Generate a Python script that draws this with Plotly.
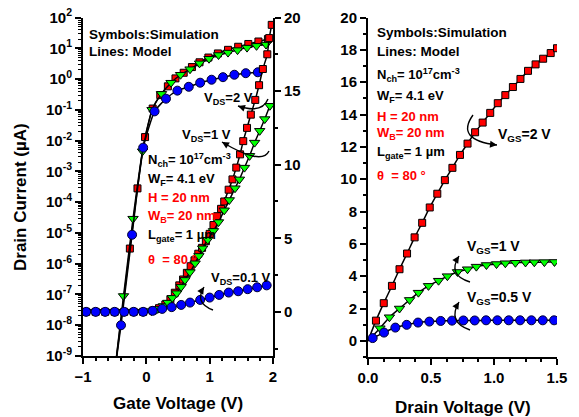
import math
import plotly.graph_objects as go

W, H = 579, 417
FONT = "Liberation Sans, Arial, sans-serif"

# ---------------- Left panel: transfer characteristics ----------------
# log scale (left axis), drain current in uA vs gate voltage
vg_log_vds2 = [-0.50, -0.26, -0.14, -0.02, 0.10, 0.22, 0.34, 0.46, 0.59, 0.72, 0.84, 0.98, 1.13, 1.29, 1.45, 1.61, 1.77, 1.92]
id_log_vds2 = [3e-10, 3.1e-6, 2.8e-4, 1.3e-2, 0.11, 0.30, 0.58, 1.05, 1.6, 2.45, 3.5, 5.0, 6.8, 8.9, 11.2, 13.8, 16.6, 20.0]

vg_log_vds1 = [-0.50, -0.36, -0.21, -0.06, 0.09, 0.24, 0.39, 0.54, 0.69, 0.84, 0.99, 1.14, 1.29, 1.44, 1.59, 1.74, 1.89]
id_log_vds1 = [3e-10, 8.9e-8, 2.9e-5, 4.5e-3, 0.10, 0.33, 0.76, 1.38, 2.09, 3.24, 4.57, 6.03, 7.24, 8.71, 10.5, 12.0, 13.2]

vg_log_vds01 = [-0.50, -0.40, -0.225, -0.05, 0.13, 0.31, 0.49, 0.67, 0.85, 1.03, 1.21, 1.39, 1.57, 1.76]
id_log_vds01 = [3e-10, 1e-8, 8.7e-6, 5.9e-3, 0.089, 0.23, 0.42, 0.56, 0.76, 0.95, 1.15, 1.38, 1.55, 1.66]

# linear scale (right axis)
vg_lin_vds2 = [-0.95, -0.80, -0.65, -0.50, -0.35, -0.20, -0.05, 0.10, 0.20, 0.30, 0.38, 0.45, 0.52, 0.58, 0.64, 0.70,
               0.76, 0.82, 0.88, 0.94, 1.00, 1.06, 1.12, 1.18, 1.23, 1.30, 1.36, 1.42, 1.48, 1.53, 1.59, 1.65, 1.72,
               1.78, 1.84, 1.91, 1.94, 1.98]
id_lin_vds2 = [0, 0, 0, 0, 0, 0, 0, 0.08, 0.25, 0.5, 0.85, 1.3, 1.8, 2.2, 2.65, 3.1,
               3.5, 3.95, 4.35, 4.8, 5.3, 5.9, 6.5, 7.0, 7.5, 8.3, 9.0, 9.8, 10.7, 11.6, 12.5, 13.4, 14.4,
               15.4, 16.5, 17.5, 18.6, 19.5]

vg_lin_vds1 = [-0.95, -0.80, -0.65, -0.50, -0.35, -0.20, -0.05, 0.08, 0.18, 0.27, 0.34, 0.41, 0.48, 0.55, 0.61, 0.69,
               0.77, 0.83, 0.89, 0.97, 1.06, 1.14, 1.23, 1.31, 1.40, 1.47, 1.55, 1.63, 1.71, 1.79, 1.87, 1.95]
id_lin_vds1 = [0, 0, 0, 0, 0, 0, 0, 0.05, 0.2, 0.4, 0.63, 0.95, 1.27, 1.7, 2.17, 2.7,
               3.3, 3.8, 4.32, 4.9, 5.5, 6.1, 6.9, 7.6, 8.4, 9.0, 9.8, 10.6, 11.5, 12.3, 13.1, 14.0]

vg_lin_vds01 = [-0.95, -0.80, -0.65, -0.50, -0.35, -0.20, -0.05, 0.10, 0.25, 0.40, 0.55, 0.69, 0.85, 1.00, 1.15,
                1.30, 1.45, 1.60, 1.75, 1.90]
id_lin_vds01 = [0, 0, 0, 0, 0, 0, 0, 0.07, 0.20, 0.32, 0.47, 0.63, 0.81, 0.97, 1.15,
                1.31, 1.40, 1.54, 1.67, 1.80]

# ---------------- Right panel: output characteristics ----------------
vd_vgs2 = [0.0, 0.063, 0.125, 0.19, 0.25, 0.31, 0.37, 0.43, 0.49, 0.55, 0.61, 0.67, 0.73, 0.79, 0.85, 0.91,
           0.97, 1.03, 1.09, 1.15, 1.21, 1.27, 1.33, 1.39, 1.45, 1.50]
id_vgs2 = [0.0, 1.25, 2.33, 3.4, 4.43, 5.4, 6.4, 7.3, 8.25, 9.1, 9.94, 10.7, 11.5, 12.2, 12.9, 13.5,
           14.1, 14.7, 15.2, 15.7, 16.2, 16.7, 17.1, 17.45, 17.8, 18.1]

vd_vgs1 = [0.0, 0.095, 0.17, 0.25, 0.33, 0.40, 0.48, 0.56, 0.63, 0.71, 0.79, 0.86, 0.94, 1.02, 1.09, 1.17,
           1.25, 1.32, 1.40, 1.48]
id_vgs1 = [0.0, 0.78, 1.46, 2.0, 2.53, 2.98, 3.4, 3.72, 4.0, 4.26, 4.43, 4.59, 4.69, 4.75, 4.8, 4.83,
           4.85, 4.86, 4.87, 4.88]

vd_vgs05 = [0.0, 0.037, 0.127, 0.217, 0.307, 0.397, 0.487, 0.577, 0.667, 0.757, 0.847, 0.937, 1.027, 1.117,
            1.207, 1.297, 1.387, 1.477]
id_vgs05 = [0.0, 0.17, 0.51, 0.82, 0.99, 1.13, 1.19, 1.23, 1.25, 1.26, 1.26, 1.27, 1.27, 1.27,
            1.27, 1.27, 1.27, 1.27]

log_tickvals = [1e-9, 1e-8, 1e-7, 1e-6, 1e-5, 1e-4, 1e-3, 1e-2, 1e-1, 1e0, 1e1, 1e2]
log_ticktext = ["10<sup>-9</sup>", "10<sup>-8</sup>", "10<sup>-7</sup>", "10<sup>-6</sup>", "10<sup>-5</sup>",
                "10<sup>-4</sup>", "10<sup>-3</sup>", "10<sup>-2</sup>", "10<sup>-1</sup>", "10<sup>0</sup>",
                "10<sup>1</sup>", "10<sup>2</sup>"]

RED, GREEN, BLUE = "#ff0000", "#00ff00", "#0000ff"
styles = {
    "sq": dict(symbol="square", size=7, color=RED, line=dict(color="black", width=1)),
    "tri": dict(symbol="triangle-down", size=9, color=GREEN, line=dict(color="black", width=1)),
    "cir": dict(symbol="circle", size=9, color=BLUE, line=dict(color="#000033", width=1)),
}


def px(x):
    return x / W


def py(y):
    return 1 - y / H


fig = go.Figure()


def add_series(x, y, xa, ya, mk, skip_first=False):
    fig.add_trace(go.Scatter(x=x, y=y, xaxis=xa, yaxis=ya, mode="lines",
                             line=dict(color="black", width=1.5, shape="spline", smoothing=0.5),
                             hoverinfo="skip"))
    xs = x[1:] if skip_first else x
    ys = y[1:] if skip_first else y
    fig.add_trace(go.Scatter(x=xs, y=ys, xaxis=xa, yaxis=ya, mode="markers", marker=styles[mk]))


# left panel, linear (right axis)
add_series(vg_lin_vds2, id_lin_vds2, "x", "y2", "sq")
add_series(vg_lin_vds1, id_lin_vds1, "x", "y2", "tri")
add_series(vg_lin_vds01, id_lin_vds01, "x", "y2", "cir")
# left panel, log (left axis)
add_series(vg_log_vds2, id_log_vds2, "x", "y", "sq", skip_first=True)
add_series(vg_log_vds1, id_log_vds1, "x", "y", "tri", skip_first=True)
add_series(vg_log_vds01, id_log_vds01, "x", "y", "cir", skip_first=True)
# right panel
add_series(vd_vgs2, id_vgs2, "x2", "y3", "sq", skip_first=True)
add_series(vd_vgs1, id_vgs1, "x2", "y3", "tri", skip_first=True)
add_series(vd_vgs05, id_vgs05, "x2", "y3", "cir", skip_first=True)

tickfont = dict(family=FONT, size=15, color="black", weight="bold")
base = dict(showgrid=False, zeroline=False, showline=True, linecolor="black", linewidth=2,
            ticklen=6, tickwidth=2, tickcolor="black", tickfont=tickfont, automargin=False)

LX0, LX1 = 83, 273
RX0, RX1 = 368, 557
YT, LYB, RYB = 17.5, 356, 357

fig.update_layout(
    width=W, height=H, margin=dict(l=0, r=0, t=0, b=0),
    plot_bgcolor="white", paper_bgcolor="white", showlegend=False,
    xaxis=dict(base, domain=[px(LX0), px(LX1)], anchor="y", range=[-1, 2], tickvals=[-1, 0, 1, 2],
               ticks="outside", minor=dict(ticks="outside", ticklen=3, tickwidth=1.5, dtick=0.2, tickcolor="black")),
    xaxis3=dict(base, overlaying="x", anchor="y", side="top", range=[-1, 2], tickvals=[-1, 0, 1, 2],
                ticks="inside", showticklabels=False,
                minor=dict(ticks="inside", ticklen=3, tickwidth=1.5, dtick=0.2, tickcolor="black")),
    yaxis=dict(base, domain=[py(LYB), py(YT)], anchor="x", type="log", range=[-9, 2],
               tickvals=log_tickvals, ticktext=log_ticktext, ticks="outside",
               minor=dict(ticks="outside", ticklen=3, tickwidth=1.2, dtick="D1", tickcolor="black")),
    yaxis2=dict(base, overlaying="y", anchor="x", side="right", range=[-3, 20], tickvals=[0, 5, 10, 15, 20],
                ticks="outside", minor=dict(ticks="outside", ticklen=3, tickwidth=1.5, dtick=2.5, tickcolor="black")),
    xaxis2=dict(base, domain=[px(RX0), px(RX1)], anchor="y3", range=[0, 1.5], tickvals=[0, 0.5, 1.0, 1.5],
                tickformat=".1f", ticks="outside",
                minor=dict(ticks="outside", ticklen=3, tickwidth=1.5, dtick=0.125, tickcolor="black")),
    xaxis4=dict(base, overlaying="x2", anchor="y3", side="top", range=[0, 1.5], tickvals=[0, 0.5, 1.0, 1.5],
                ticks="inside", showticklabels=False,
                minor=dict(ticks="inside", ticklen=3, tickwidth=1.5, dtick=0.125, tickcolor="black")),
    yaxis3=dict(base, domain=[py(RYB), py(YT)], anchor="x2", range=[-1, 20], dtick=2, tick0=0,
                ticks="outside", minor=dict(ticks="outside", ticklen=3, tickwidth=1.5, dtick=1, tickcolor="black")),
    yaxis4=dict(base, overlaying="y3", anchor="x2", side="right", range=[-1, 20], dtick=2, tick0=0,
                ticks="inside", showticklabels=False,
                minor=dict(ticks="inside", ticklen=3, tickwidth=1.5, dtick=1, tickcolor="black")),
)

annotations = []
shapes = []


def text(x, y, t, color="black", size=13, anchor="left", angle=0):
    annotations.append(dict(x=px(x), y=py(y), xref="paper", yref="paper", text=t, showarrow=False,
                            xanchor=anchor, yanchor="middle", textangle=angle,
                            font=dict(family=FONT, size=size, color=color, weight="bold")))


def curved_arrow(start, ctrl, end):
    (x0, y0), (cx, cy), (x1, y1) = start, ctrl, end
    shapes.append(dict(type="path", xref="paper", yref="paper",
                       path=f"M {px(x0)},{py(y0)} Q {px(cx)},{py(cy)} {px(x1)},{py(y1)}",
                       line=dict(color="black", width=1.4)))
    dx, dy = x1 - cx, y1 - cy
    n = math.hypot(dx, dy)
    annotations.append(dict(x=px(x1), y=py(y1), xref="paper", yref="paper", text="", showarrow=True,
                            axref="pixel", ayref="pixel", ax=-dx / n * 7, ay=-dy / n * 7,
                            arrowhead=2, arrowsize=1, arrowwidth=1.4, arrowcolor="black", standoff=0))


# axis titles
text(21, 197, "Drain Current (µA)", size=17, anchor="center", angle=-90)
text(178, 403, "Gate Voltage (V)", size=17, anchor="center")
text(463, 407, "Drain Voltage (V)", size=17, anchor="center")

params = [
    ("N<sub>ch</sub>= 10<sup>17</sup>cm<sup>-3</sup>", "black"),
    ("W<sub>F</sub>= 4.1 eV", "black"),
    ("H = 20 nm", RED),
    ("W<sub>B</sub>= 20 nm", RED),
    ("L<sub>gate</sub>= 1 µm", "black"),
    ("θ  = 80 °", RED),
]

# left panel texts
text(87, 34, "Symbols:Simulation", size=13.5)
text(87, 51, "Lines: Model", size=13.5)
for (t, c), yy in zip(params, [160, 179, 198, 216, 235, 259]):
    text(146, yy, t, c)
text(202, 99, "V<sub>DS</sub>=2 V")
text(180, 135, "V<sub>DS</sub>=1 V")
text(209, 278, "V<sub>DS</sub>=0.1 V")
curved_arrow((268, 99), (262, 114), (238, 106))
curved_arrow((269, 151), (262, 166), (222, 142))
curved_arrow((213, 310), (194, 303), (204, 287))

# right panel texts
text(375, 33, "Symbols:Simulation", size=13.5)
text(375, 51, "Lines: Model", size=13.5)
for (t, c), yy in zip(params, [75, 96, 116, 133, 153, 175]):
    text(375, yy, t, c)
text(496, 135, "V<sub>GS</sub>=2 V", size=14)
text(465, 247, "V<sub>GS</sub>=1 V", size=14)
text(465, 298, "V<sub>GS</sub>=0.5 V", size=14)
curved_arrow((473, 115), (455, 140), (497, 145))
curved_arrow((470, 282), (447, 275), (459, 256))
curved_arrow((470, 330), (447, 322), (459, 302))

fig.update_layout(annotations=annotations, shapes=shapes)
fig.write_html("out.html", config={"displayModeBar": False},
               post_script="document.body.style.margin='0px';document.body.style.overflow='hidden';")
